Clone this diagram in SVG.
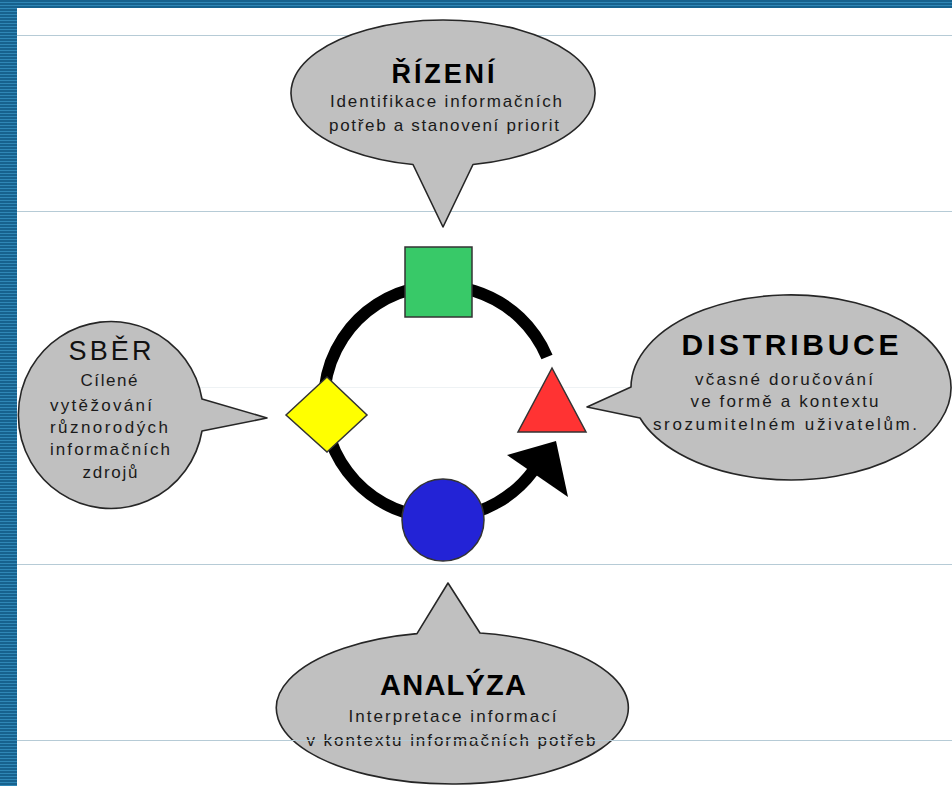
<svg xmlns="http://www.w3.org/2000/svg" width="952" height="786" viewBox="0 0 952 786">
  <style>
    .rule { stroke: #b6cbd6; stroke-width: 1.2; }
    .bubble { fill: #c0c0c0; stroke: #262626; stroke-width: 1.6; stroke-linejoin: round; }
    .title { font-family: "Liberation Sans", Arial, sans-serif; font-weight: bold; fill: #000; text-anchor: middle; }
    .plain { font-family: "Liberation Sans", Arial, sans-serif; fill: #111; text-anchor: middle; }
    .sub { font-family: "Liberation Sans", Arial, sans-serif; font-size: 17px; fill: #1a1a1a; text-anchor: middle; }
    .shape { stroke: #333; stroke-width: 1.5; }
  </style>
  <defs>
    <pattern id="stripes" width="4" height="3" patternUnits="userSpaceOnUse">
      <rect width="4" height="3" fill="#17628e"/>
      <rect y="2" width="4" height="1" fill="#2f87b6"/>
    </pattern>
  </defs>

  <!-- page frame -->
  <rect width="952" height="786" fill="#ffffff"/>
  <rect x="0" y="0" width="952" height="8" fill="url(#stripes)"/>
  <rect x="0" y="0" width="17" height="786" fill="url(#stripes)"/>

  <!-- ruled lines behind the bubbles -->
  <g id="rules">
    <line class="rule" x1="17" y1="35.5" x2="952" y2="35.5"/>
    <line class="rule" x1="17" y1="211.5" x2="952" y2="211.5"/>
    <line x1="17" y1="387.5" x2="952" y2="387.5" stroke="#eef2f4" stroke-width="1"/>
    <line class="rule" x1="17" y1="564.5" x2="952" y2="564.5"/>
  </g>

  <!-- cycle ring and arrow -->
  <g id="connectors">
    <path d="M 547 357 A 116 116 0 1 0 533 471" fill="none" stroke="#000" stroke-width="12"/>
    <polygon points="507,455 556,441 568,497" fill="#000"/>
  </g>

  <g id="node-square">
    <rect class="shape" x="405" y="247" width="67" height="70" fill="#38c968"/>
  </g>
  <g id="node-diamond">
    <polygon class="shape" points="286,415 327,377 367,415 327,452" fill="#ffff00"/>
  </g>
  <g id="node-triangle">
    <polygon class="shape" points="552,368 518,432 586,432" fill="#ff3333"/>
  </g>
  <g id="node-circle">
    <circle class="shape" cx="443" cy="520" r="41" fill="#2323d6"/>
  </g>

  <!-- callouts -->
  <g id="callout-rizeni">
    <path class="bubble" d="M 413 164.5 L 443 227 L 473 164.5 A 152 73 0 1 0 413 164.5 Z"/>
    <text class="title" x="443" y="83" font-size="27" textLength="103" lengthAdjust="spacing">ŘÍZENÍ</text>
    <text class="sub" x="446" y="107" textLength="232" lengthAdjust="spacing">Identifikace informačních</text>
    <text class="sub" x="444" y="130.5" textLength="230" lengthAdjust="spacing">potřeb a stanovení priorit</text>
  </g>

  <g id="callout-sber">
    <path class="bubble" d="M 202 399 L 267 418 L 202 431 A 92.5 93.5 0 1 1 202 399 Z"/>
    <text class="plain" x="110" y="360" font-size="27" textLength="83" lengthAdjust="spacing">SBĚR</text>
    <text class="sub" x="109" y="386" textLength="57" lengthAdjust="spacing">Cílené</text>
    <text class="sub" x="101" y="411" textLength="102" lengthAdjust="spacing">vytěžování</text>
    <text class="sub" x="109" y="433" textLength="118" lengthAdjust="spacing">různorodých</text>
    <text class="sub" x="110" y="455" textLength="120" lengthAdjust="spacing">informačních</text>
    <text class="sub" x="110" y="478" textLength="55" lengthAdjust="spacing">zdrojů</text>
  </g>

  <g id="callout-distribuce">
    <path class="bubble" d="M 631 387 L 587 407 L 640 418 A 160 92.5 0 1 0 631 387 Z"/>
    <text class="title" x="790" y="355" font-size="30" textLength="217" lengthAdjust="spacing">DISTRIBUCE</text>
    <text class="sub" x="784" y="385" textLength="178" lengthAdjust="spacing">včasné doručování</text>
    <text class="sub" x="784.5" y="407" textLength="188" lengthAdjust="spacing">ve formě a kontextu</text>
    <text class="sub" x="785" y="430" textLength="264" lengthAdjust="spacing">srozumitelném uživatelům.</text>
  </g>

  <g id="callout-analyza">
    <path class="bubble" d="M 480 633 L 448 583 L 417 633.6 A 176 76 0 1 0 480 633 Z"/>
    <text class="title" x="453" y="695" font-size="29" textLength="146" lengthAdjust="spacing">ANALÝZA</text>
    <text class="sub" x="452.5" y="722" textLength="208" lengthAdjust="spacing">Interpretace informací</text>
    <text class="sub" x="451" y="745.5" textLength="289" lengthAdjust="spacing">v kontextu informačních potřeb</text>
  </g>

  <!-- lowest ruled line runs across the bottom callout -->
  <line class="rule" x1="17" y1="740.5" x2="952" y2="740.5"/>
</svg>
